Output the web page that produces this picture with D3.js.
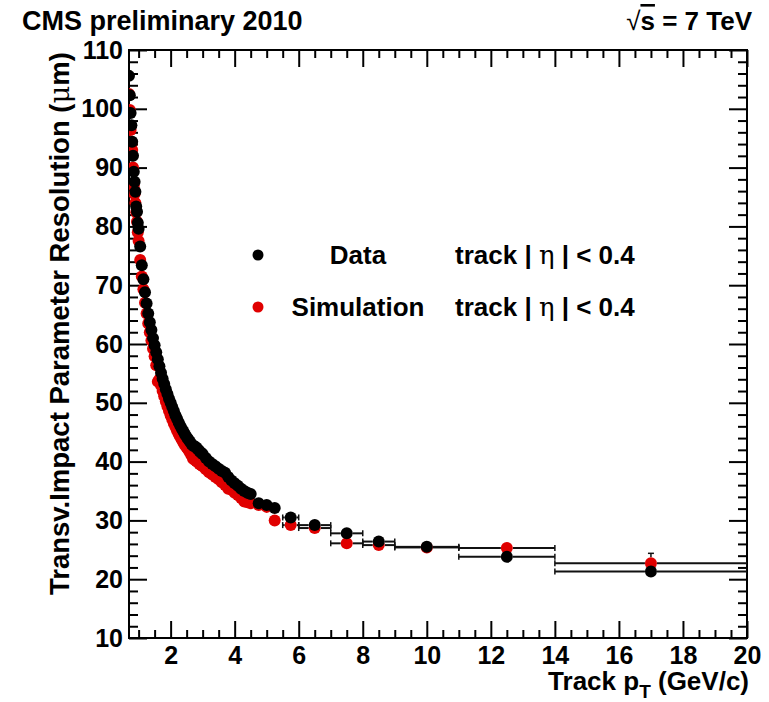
<!DOCTYPE html>
<html>
<head>
<meta charset="utf-8">
<script src="https://cdn.jsdelivr.net/npm/d3@7"></script>
<style>
  html, body { margin: 0; padding: 0; background: #fff; }
  svg { display: block; }
  text { font-family: "Liberation Sans", Arial, Helvetica, sans-serif; font-weight: bold; fill: #000; }
</style>
</head>
<body>
<svg id="chart" width="769" height="702"></svg>
<script>
// ---- data ----
const pt = [0.700,0.725,0.750,0.775,0.800,0.825,0.850,0.875,0.900,0.925,0.950,0.975,1.000,
  1.05,1.10,1.15,1.20,1.25,1.30,1.35,1.40,1.45,1.50,1.55,1.60,1.65,1.70,1.75,1.80,1.85,1.90,1.95,2.00,
  2.05,2.10,2.15,2.20,2.25,2.30,2.35,2.40,2.45,2.50,2.55,2.60,2.65,2.70,2.75,2.80,2.85,2.90,2.95,3.00,
  3.1,3.2,3.3,3.4,3.5,3.6,3.7,3.8,3.9,4.0,4.1,4.2,4.3,4.4,4.5,
  4.75,5.0,5.25,5.75,6.5,7.5,8.5,10,12.5,17];
const ptHalfWidth = [0.0125,0.0125,0.0125,0.0125,0.0125,0.0125,0.0125,0.0125,0.0125,0.0125,0.0125,0.0125,0.0125,
  0.025,0.025,0.025,0.025,0.025,0.025,0.025,0.025,0.025,0.025,0.025,0.025,0.025,0.025,0.025,0.025,0.025,0.025,0.025,0.025,
  0.025,0.025,0.025,0.025,0.025,0.025,0.025,0.025,0.025,0.025,0.025,0.025,0.025,0.025,0.025,0.025,0.025,0.025,0.025,0.025,
  0.05,0.05,0.05,0.05,0.05,0.05,0.05,0.05,0.05,0.05,0.05,0.05,0.05,0.05,0.05,
  0.125,0.125,0.125,0.25,0.5,0.5,0.5,1.0,1.5,3.0];
const dataRes = [105.6,102.3,99.3,97.2,94.4,92.0,89.3,87.6,85.9,83.4,82.5,80.6,79.6,
  76.6,73.4,71.0,68.8,66.9,65.2,63.7,62.4,61.0,59.8,58.6,57.4,56.2,55.1,54.1,53.2,52.3,51.5,50.7,50.0,
  49.3,48.6,47.9,47.3,46.7,46.1,45.6,45.1,44.6,44.2,43.8,43.4,43.0,42.7,42.6,42.4,42.1,41.8,41.5,41.3,
  40.6,40.0,39.6,39.2,38.8,38.4,38.1,37.4,36.8,36.3,35.9,35.4,35.0,34.7,34.5,
  32.9,32.6,32.1,30.5,29.2,27.8,26.4,25.5,23.8,21.3];
const simRes = [102.5,99.8,96.4,94.0,93.0,90.0,86.9,85.5,84.0,82.4,80.8,79.0,77.5,
  74.3,71.5,69.3,67.0,65.2,63.5,62.0,60.6,59.2,57.9,56.4,53.6,54.0,53.0,52.0,51.1,50.2,49.4,48.6,47.9,
  47.2,46.5,45.9,45.3,44.7,44.2,43.7,43.2,42.8,42.4,42.0,41.6,41.1,40.5,40.3,40.1,39.9,39.6,39.4,39.2,
  38.7,38.2,37.8,37.4,37.0,36.5,36.0,35.4,35.2,34.7,34.3,33.8,33.2,33.1,32.9,
  32.6,32.3,30.0,29.2,28.7,26.1,25.8,25.4,25.3,22.7];
// vertical errors for the wide high-pT bins
const errPt   = [4.75,5.0,5.25,5.75,6.5,7.5,8.5,10,12.5,17];
const dataErr = [0.3,0.3,0.3,0.4,0.5,0.6,0.7,0.8,0.9,0.9];
const simErr  = [0.2,0.2,0.3,0.3,0.4,0.5,0.5,0.6,0.8,1.7];

const xMajorTicks = [2,4,6,8,10,12,14,16,18,20];
const yMajorTicks = [10,20,30,40,50,60,70,80,90,100,110];

const titleLeft = "CMS preliminary 2010";
const yTitle = "Transv.Impact Parameter Resolution (";
const legendLabels = ["Data", "Simulation"];
const legendCut = "track";

// ---- layout ----
const M = {left: 129, right: 747, top: 50, bottom: 638};
const svg = d3.select("#chart");
const x = d3.scaleLinear().domain([0.7, 20]).range([M.left, M.right]);
const y = d3.scaleLinear().domain([10, 110]).range([M.bottom, M.top]);
const R = 6;

const xMinor = d3.range(1.0, 20.01, 0.5).filter(v => Math.abs(v % 2) > 1e-6);
const yMinor = d3.range(12, 110, 2).filter(v => v % 10 !== 0);

function styleAxis(g) {
  g.select(".domain").remove();
  g.selectAll("line").attr("stroke", "#000").attr("stroke-width", 2);
  g.selectAll("text").style("font-size", "25px").attr("fill", "#000");
}
// bottom
svg.append("g").attr("transform", `translate(0,${M.bottom})`)
  .call(d3.axisBottom(x).tickValues(xMajorTicks).tickSize(-17).tickPadding(8).tickFormat(d3.format("d")))
  .call(styleAxis);
svg.append("g").attr("transform", `translate(0,${M.bottom})`)
  .call(d3.axisBottom(x).tickValues(xMinor).tickSize(-8).tickFormat(""))
  .call(styleAxis);
// top
svg.append("g").attr("transform", `translate(0,${M.top})`)
  .call(d3.axisTop(x).tickValues(xMajorTicks).tickSize(-17).tickFormat(""))
  .call(styleAxis);
svg.append("g").attr("transform", `translate(0,${M.top})`)
  .call(d3.axisTop(x).tickValues(xMinor).tickSize(-8).tickFormat(""))
  .call(styleAxis);
// left
svg.append("g").attr("transform", `translate(${M.left},0)`)
  .call(d3.axisLeft(y).tickValues(yMajorTicks).tickSize(-18).tickPadding(6).tickFormat(d3.format("d")))
  .call(styleAxis);
svg.append("g").attr("transform", `translate(${M.left},0)`)
  .call(d3.axisLeft(y).tickValues(yMinor).tickSize(-9).tickFormat(""))
  .call(styleAxis);
// right
svg.append("g").attr("transform", `translate(${M.right},0)`)
  .call(d3.axisRight(y).tickValues(yMajorTicks).tickSize(-18).tickFormat(""))
  .call(styleAxis);
svg.append("g").attr("transform", `translate(${M.right},0)`)
  .call(d3.axisRight(y).tickValues(yMinor).tickSize(-9).tickFormat(""))
  .call(styleAxis);

// frame
svg.append("rect").attr("x", M.left).attr("y", M.top)
  .attr("width", M.right - M.left).attr("height", M.bottom - M.top)
  .attr("fill", "none").attr("stroke", "#000").attr("stroke-width", 2);

// clip
svg.append("clipPath").attr("id", "plotclip").append("rect")
  .attr("x", M.left).attr("y", M.top).attr("width", M.right - M.left).attr("height", M.bottom - M.top);

function drawSeries(values, errs, color) {
  const g = svg.append("g").attr("clip-path", "url(#plotclip)");
  const pts = pt.map((p, i) => ({p, hw: ptHalfWidth[i], v: values[i]}));
  // horizontal bin bars
  pts.forEach(d => {
    const cx = x(d.p), cy = y(d.v);
    const x0 = x(d.p - d.hw), x1 = x(d.p + d.hw);
    if (cx - x0 > R + 1) {
      g.append("line").attr("x1", x0).attr("x2", cx - R).attr("y1", cy).attr("y2", cy)
        .attr("stroke", "#111").attr("stroke-width", 2);
      g.append("line").attr("x1", x0).attr("x2", x0).attr("y1", cy - 3).attr("y2", cy + 3)
        .attr("stroke", "#111").attr("stroke-width", 1.5);
    }
    if (x1 - cx > R + 1) {
      g.append("line").attr("x1", cx + R).attr("x2", x1).attr("y1", cy).attr("y2", cy)
        .attr("stroke", "#111").attr("stroke-width", 2);
      g.append("line").attr("x1", x1).attr("x2", x1).attr("y1", cy - 3).attr("y2", cy + 3)
        .attr("stroke", "#111").attr("stroke-width", 1.5);
    }
  });
  // vertical errors
  errPt.forEach((p, j) => {
    const i = pt.indexOf(p);
    const cx = x(p), cy = y(values[i]);
    const yt = y(values[i] + errs[j]), yb = y(values[i] - errs[j]);
    if (cy - yt > R + 1) {
      g.append("line").attr("x1", cx).attr("x2", cx).attr("y1", yt).attr("y2", cy - R)
        .attr("stroke", "#111").attr("stroke-width", 1.5);
      g.append("line").attr("x1", cx - 3).attr("x2", cx + 3).attr("y1", yt).attr("y2", yt)
        .attr("stroke", "#111").attr("stroke-width", 1.5);
    }
    if (yb - cy > R + 1) {
      g.append("line").attr("x1", cx).attr("x2", cx).attr("y1", cy + R).attr("y2", yb)
        .attr("stroke", "#111").attr("stroke-width", 1.5);
      g.append("line").attr("x1", cx - 3).attr("x2", cx + 3).attr("y1", yb).attr("y2", yb)
        .attr("stroke", "#111").attr("stroke-width", 1.5);
    }
  });
  g.selectAll("circle.m").data(pts).enter().append("circle")
    .attr("cx", d => x(d.p)).attr("cy", d => y(d.v)).attr("r", R).attr("fill", color);
}
drawSeries(simRes, simErr, "#e00000");
drawSeries(dataRes, dataErr, "#000000");

// legend
const legY = [255, 307];
const legColors = ["#000000", "#e00000"];
legendLabels.forEach((lab, i) => {
  svg.append("circle").attr("cx", 258).attr("cy", legY[i]).attr("r", 5.5).attr("fill", legColors[i]);
  svg.append("text").attr("x", 358).attr("y", legY[i] + 9).attr("text-anchor", "middle")
    .style("font-size", "26px").text(lab);
  const t = svg.append("text").attr("x", 455).attr("y", legY[i] + 9).style("font-size", "26px");
  t.append("tspan").text(legendCut + " | ");
  t.append("tspan").style("font-weight", "normal").style("font-family", "'DejaVu Serif', 'Liberation Serif', serif").text("η");
  t.append("tspan").text(" |  < 0.4");
});

// titles
svg.append("text").attr("x", 22).attr("y", 30).style("font-size", "27px").text(titleLeft);
const rt = svg.append("text").attr("x", 752).attr("y", 30).attr("text-anchor", "end").style("font-size", "26px");
rt.append("tspan").style("font-weight", "normal").text("√");
rt.append("tspan").style("text-decoration", "overline").text("s");
rt.append("tspan").text(" = 7 TeV");

// x title
const xt = svg.append("text").attr("x", M.right + 2).attr("y", 690).attr("text-anchor", "end").style("font-size", "26px");
xt.append("tspan").text("Track p");
xt.append("tspan").attr("dy", 8).style("font-size", "19px").text("T");
xt.append("tspan").attr("dy", -8).text("  (GeV/c)");

// y title
const yt = svg.append("text").attr("transform", `translate(69,${M.top + 2}) rotate(-90)`)
  .attr("text-anchor", "end").style("font-size", "27.5px");
yt.append("tspan").text(yTitle);
yt.append("tspan").style("font-weight", "normal").style("font-family", "'DejaVu Serif', serif").text("μ");
yt.append("tspan").text("m)");
</script>
</body>
</html>
